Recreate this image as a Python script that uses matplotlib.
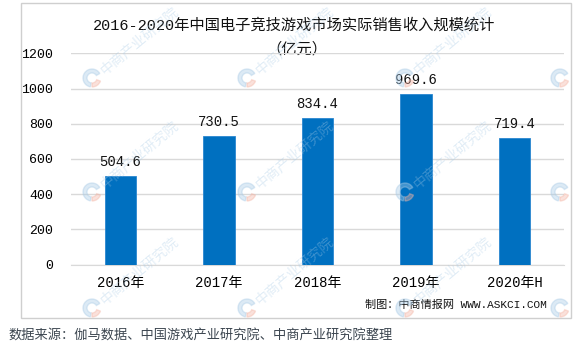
import matplotlib
matplotlib.use("Agg")
import matplotlib.pyplot as plt
from matplotlib.patches import Rectangle, Wedge

years = ["2016年", "2017年", "2018年", "2019年", "2020年H"]
revenue = [504.6, 730.5, 834.4, 969.6, 719.4]
yticks = [0, 200, 400, 600, 800, 1000, 1200]

title = "2016-2020年中国电子竞技游戏市场实际销售收入规模统计"
unit = "（亿元）"
credit = "制图：中商情报网 WWW.ASKCI.COM"
source = "数据来源：伽马数据、中国游戏产业研究院、中商产业研究院整理"

FONT = ["Liberation Mono", "Noto Sans CJK SC"]
CJK = ["Noto Sans CJK SC", "DejaVu Sans"]
W, H = 580, 347

fig = plt.figure(figsize=(W / 100, H / 100), dpi=100, facecolor="white")

# pixel overlay for the frame, captions and watermark
ov = fig.add_axes([0, 0, 1, 1], zorder=0)
ov.set_xlim(0, W); ov.set_ylim(H, 0); ov.axis("off")
ov.add_patch(Rectangle((21, 3), 550, 315, fill=False, ec="#cfcfcf", lw=1.0))

ax = fig.add_axes([71 / W, 1 - 264.5 / H, 493 / W, 211.2 / H], zorder=1)
ax.patch.set_alpha(0)
x = range(len(years))
bars = ax.bar(x, revenue, width=0.32, color="#0070c0", edgecolor="#2a86d0", lw=0.6, zorder=3)
for b, v in zip(bars, revenue):
    ax.annotate(f"{v:.1f}", (b.get_x() + b.get_width() / 2, v), xytext=(0, 10),
                textcoords="offset points", ha="center", va="center",
                fontsize=10, family=FONT, color="#111111")
ax.set_xlim(-0.5, len(years) - 0.5)
ax.set_ylim(0, 1200)
ax.set_yticks(yticks)
ax.set_yticklabels([str(t) for t in yticks], family=FONT, fontsize=9.5)
ax.set_xticks(list(x))
ax.set_xticklabels(years, family=FONT, fontsize=10)
ax.tick_params(axis="y", length=0, pad=13)
ax.tick_params(axis="x", length=0, pad=8)
ax.grid(axis="y", color="#d9d9d9", lw=1.0, zorder=0)
for s in ("top", "right", "left"):
    ax.spines[s].set_visible(False)
ax.spines["bottom"].set_color("#d9d9d9")

ov.text(294, 25, title, ha="center", va="center", fontsize=11, family=FONT, color="#111111")
ov.text(297, 49, unit, ha="center", va="center", fontsize=11, family=CJK, color="#111111")
ov.text(547, 305, credit, ha="right", va="center", fontsize=8, family=FONT, color="#111111")
ov.text(8, 336, source, ha="left", va="center", fontsize=9.5, family=CJK, color="#3c4650")

# faint tiled watermark: logo ring plus diagonal name
wm = fig.add_axes([0, 0, 1, 1], zorder=5)
wm.set_xlim(0, W); wm.set_ylim(H, 0); wm.axis("off")
for gx in (92, 247, 405, 560):
    for gy in (78, 192, 308):
        wm.add_patch(Wedge((gx, gy), 9, 100, 330, width=4, color="#a9cbe6", alpha=0.4))
        wm.add_patch(Wedge((gx, gy), 9, 20, 90, width=4, color="#f4b5a5", alpha=0.4))
        if gx < 560:
            wm.text(gx + 10, gy - 6, "中商产业研究院", rotation=40, rotation_mode="anchor",
                    ha="left", va="center", fontsize=10, family=CJK,
                    color="#a9cbe6", alpha=0.35)

fig.savefig("out.png", dpi=100, facecolor="white")
